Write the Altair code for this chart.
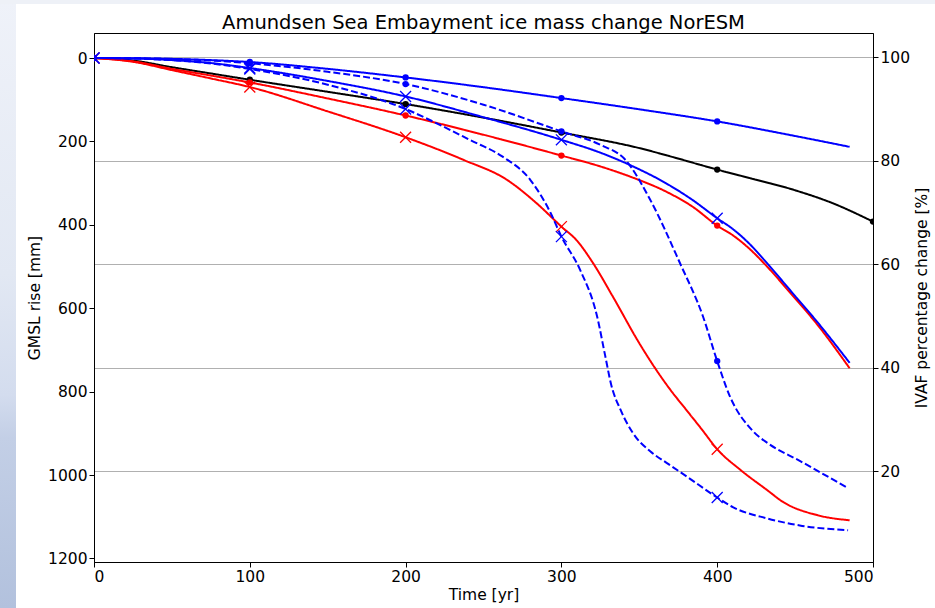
import altair as alt
import pandas as pd

TITLE = "Amundsen Sea Embayment ice mass change NorESM"
FONT = "DejaVu Sans"

# Model years [yr] and GMSL contribution [mm] of each experiment
t_a = [0, 25, 50, 75, 100, 150, 200, 250, 300, 350, 400, 450, 485]
gmsl_a = [0, 0.5, 2, 5, 9.6, 26, 46.6, 70, 96, 123, 152, 187, 213]

t_b = [0, 25, 50, 75, 100, 150, 200, 250, 300, 325, 341, 357, 376, 391, 400, 408, 423, 433, 453, 484]
gmsl_b = [0, 0.5, 2.5, 6, 12.5, 33, 62.4, 112, 175.8, 208, 244, 340, 491, 621, 726.8, 810, 895, 925, 966, 1031.6]

t_c = [0, 25, 50, 75, 100, 150, 200, 224, 241, 262, 280, 293, 300, 312, 323, 328, 332, 338,
       346, 357, 368, 381, 400, 410, 432, 453, 484]
gmsl_c = [0, 1, 5, 13, 26.4, 64, 122.4, 164, 196, 236, 292, 371, 428.3, 508, 621, 712, 784, 844,
          900, 943, 972, 1005, 1054, 1077, 1104, 1121, 1132.6]

t_d = [0, 25, 50, 75, 100, 150, 200, 250, 300, 325, 346, 367, 384, 400, 410, 420, 432, 448, 464, 485]
gmsl_d = [0, 1, 5, 12, 24, 55, 92.2, 142, 196.2, 227, 260, 300, 340, 384.2, 410, 443, 492, 562, 632, 731]

t_e = [0, 25, 50, 75, 100, 150, 200, 250, 300, 325, 346, 367, 384, 400, 410, 420, 432, 448, 464, 485]
gmsl_e = [0, 8, 26, 42, 58.6, 97, 137.8, 184, 233.9, 260, 287, 320, 356, 401.9, 425, 455, 500, 568, 638, 744]

t_f = [0, 25, 50, 75, 100, 150, 200, 237, 265, 284, 300, 310, 320, 333, 350, 360, 370, 380,
       390, 400, 415, 432, 442, 464, 485]
gmsl_f = [0, 9, 29, 49, 69.6, 128, 190, 244, 292, 348, 404.3, 438, 490, 572, 684, 743, 796, 843,
          890, 938.1, 988, 1036, 1064, 1096, 1108.5]

t_g = [0, 25, 50, 75, 100, 150, 200, 250, 300, 350, 372, 400, 421, 449, 474, 500]
gmsl_g = [0, 6, 22, 37, 52.1, 81, 110.4, 143, 178.6, 216, 238, 267.5, 288, 316, 348, 392.3]

# Years carrying a marker
mark_years = [0, 100, 200, 300, 400, 500]

# Axis ticks
ivaf_ticks = [20, 40, 60, 80, 100]
gmsl_ticks = [0, 200, 400, 600, 800, 1000, 1200]
year_ticks = [0, 100, 200, 300, 400, 500]

runs = {
    "A": (t_a, gmsl_a),
    "B": (t_b, gmsl_b),
    "C": (t_c, gmsl_c),
    "D": (t_d, gmsl_d),
    "E": (t_e, gmsl_e),
    "F": (t_f, gmsl_f),
    "G": (t_g, gmsl_g),
}

# Styles: colour, dash, marker
styles = {
    "G": ("#000000", [1, 0], "dot"),
    "E": ("#ff0000", [1, 0], "dot"),
    "F": ("#ff0000", [1, 0], "x"),
    "A": ("#0000ff", [1, 0], "dot"),
    "B": ("#0000ff", [7, 3], "dot"),
    "D": ("#0000ff", [1, 0], "x"),
    "C": ("#0000ff", [7, 3], "x"),
}
order = list(styles.keys())

rows = []
for name in order:
    ts, vs = runs[name]
    for t, v in zip(ts, vs):
        rows.append({"run": name, "t": t, "gmsl": v})
df = pd.DataFrame(rows)
marks_df = df[df["t"].isin(mark_years)]
dot_df = marks_df[marks_df["run"].isin([n for n in order if styles[n][2] == "dot"])]
x_df = marks_df[marks_df["run"].isin([n for n in order if styles[n][2] == "x"])]

x_enc = alt.X("t:Q", scale=alt.Scale(domain=[0, 500], nice=False, zero=False),
              axis=alt.Axis(values=year_ticks, title="Time [yr]", grid=False, titlePadding=3))
y_enc = alt.Y("gmsl:Q", scale=alt.Scale(domain=[-60, 1208.6], reverse=True, nice=False, zero=False),
              axis=alt.Axis(orient="left", values=gmsl_ticks, format="d", title="GMSL rise [mm]",
                            grid=False, titlePadding=5))
color_enc = alt.Color("run:N", scale=alt.Scale(domain=order, range=[styles[n][0] for n in order]),
                      legend=None)
dash_enc = alt.StrokeDash("run:N", scale=alt.Scale(domain=order, range=[styles[n][1] for n in order]),
                          legend=None)

# Right-hand IVAF axis with its grid
ivaf = alt.Chart(pd.DataFrame({"pct": ivaf_ticks})).mark_point(opacity=0).encode(
    y=alt.Y("pct:Q", scale=alt.Scale(domain=[2.46, 104.64], nice=False, zero=False),
            axis=alt.Axis(orient="right", values=ivaf_ticks, format="d", grid=True,
                          gridColor="#b0b0b0", gridWidth=1, title="IVAF percentage change [%]",
                          titleAngle=270, titleBaseline="top", titlePadding=5))
)

lines = alt.Chart(df).mark_line(strokeWidth=2, interpolate="monotone", clip=True).encode(
    x=x_enc, y=y_enc, color=color_enc, strokeDash=dash_enc
)

dots = alt.Chart(dot_df).mark_point(filled=True, size=40, opacity=1, clip=True).encode(
    x=x_enc, y=y_enc, color=color_enc
)

crosses = alt.Chart(x_df).mark_point(
    shape="M-1,-1L1,1M-1,1L1,-1", filled=False, size=120, strokeWidth=1.3, opacity=1, clip=True
).encode(x=x_enc, y=y_enc, color=color_enc)

# Page-side strips framing the figure
strip_left = alt.Chart(pd.DataFrame({"k": [0]})).mark_rect(
    fill=alt.Gradient(
        gradient="linear", x1=0, x2=0, y1=0, y2=1,
        stops=[
            alt.GradientStop(color="#eff2f9", offset=0),
            alt.GradientStop(color="#e2e8f3", offset=0.45),
            alt.GradientStop(color="#d3dcee", offset=0.65),
            alt.GradientStop(color="#c3cfe6", offset=0.72),
            alt.GradientStop(color="#b2c1dd", offset=1),
        ],
    ),
    clip=False,
).encode(x=alt.value(-94), x2=alt.value(-78), y=alt.value(-33), y2=alt.value(575))
strip_top = alt.Chart(pd.DataFrame({"k": [0]})).mark_rect(fill="#eef1f7", clip=False).encode(
    x=alt.value(-94), x2=alt.value(841), y=alt.value(-33), y2=alt.value(-29)
)

main = alt.layer(lines, dots, crosses)
decor = alt.layer(strip_left, strip_top)

chart = alt.layer(decor, ivaf, main).resolve_scale(
    y="independent"
).properties(
    width=779,
    height=529,
    padding={"left": 94, "top": 33, "right": 62, "bottom": 46},
    autosize=alt.AutoSizeParams(type="none"),
    background="white",
    title=alt.TitleParams(TITLE, font=FONT, fontSize=19.5, fontWeight="normal", color="black",
                          anchor="middle", frame="group", offset=6, dy=54, baseline="alphabetic"),
).configure_view(
    stroke="black", strokeWidth=1
).configure_axis(
    labelFont=FONT, labelFontSize=15.5, labelColor="black", labelPadding=2,
    titleFont=FONT, titleFontSize=15.5, titleFontWeight="normal", titleColor="black",
    tickColor="black", tickSize=5, tickWidth=1, domainColor="black", domainWidth=1,
)

chart.save("out.html", embed_options={"renderer": "svg", "actions": False})
